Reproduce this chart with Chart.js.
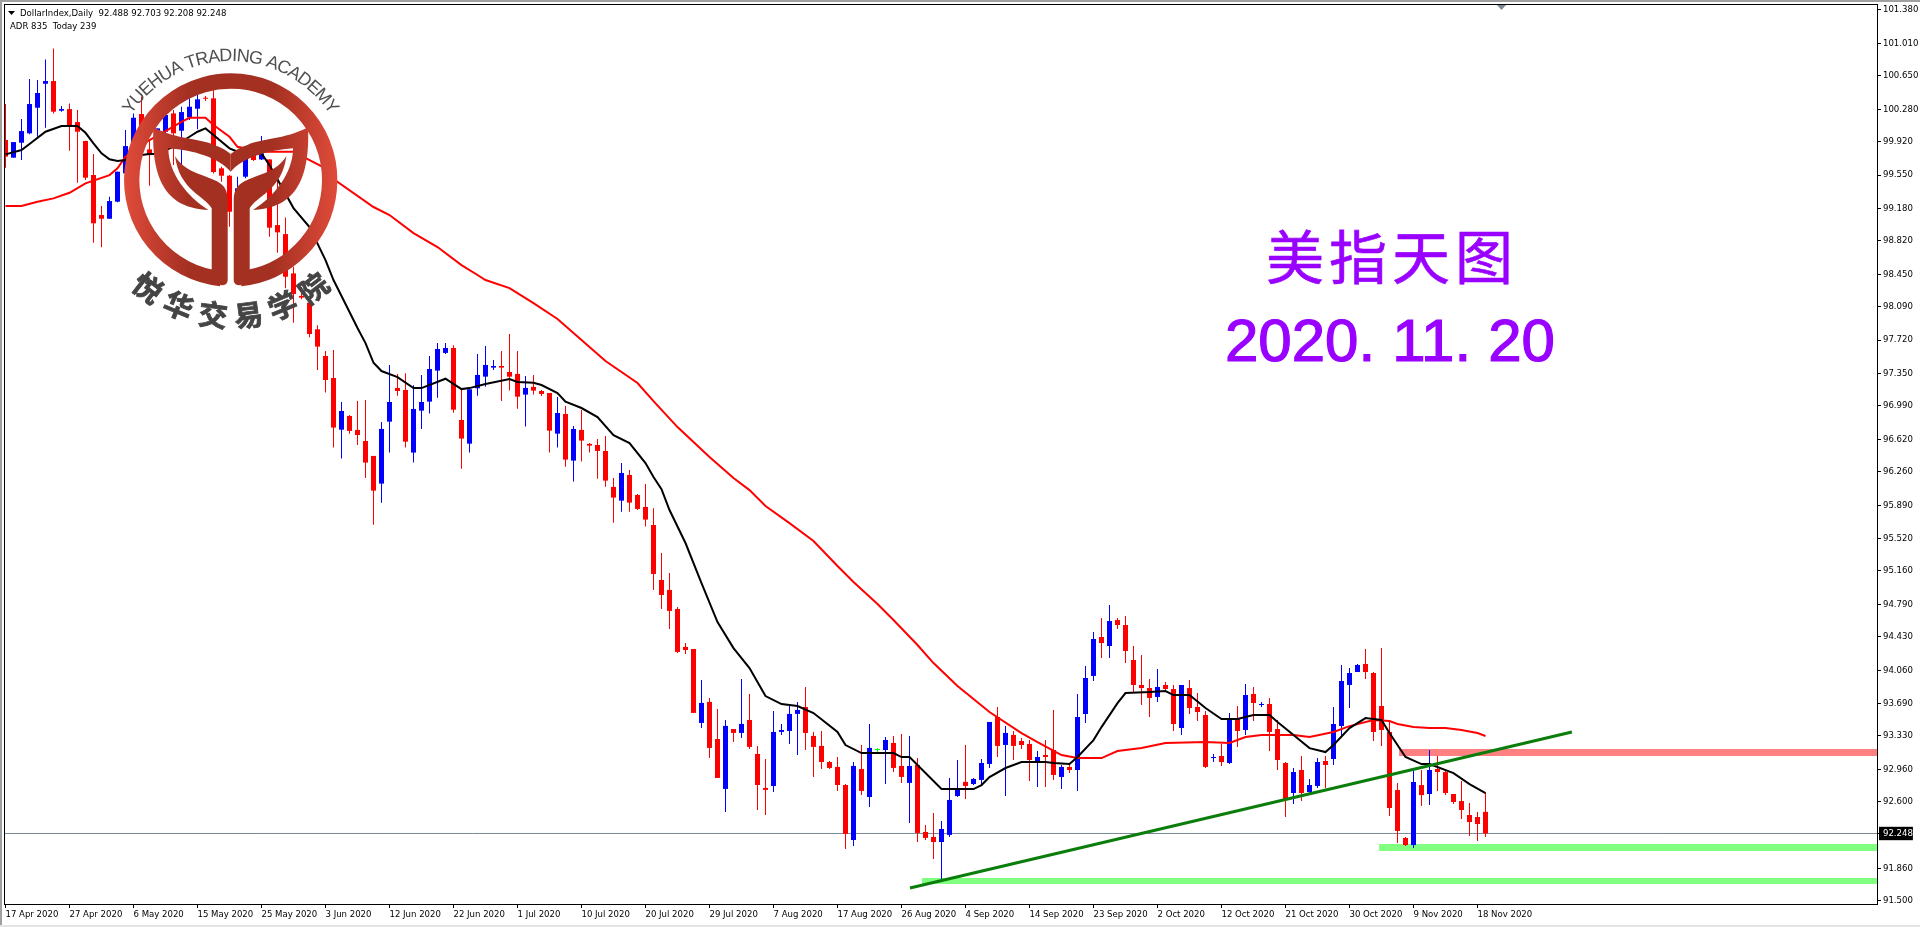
<!DOCTYPE html>
<html>
<head>
<meta charset="utf-8">
<title>DollarIndex Daily</title>
<script src="https://cdn.jsdelivr.net/npm/chart.js@4/dist/chart.umd.min.js"></script>
<style>
html, body { margin: 0; padding: 0; background: #fff; overflow: hidden; }
#wrap { position: relative; width: 1920px; height: 927px; }
canvas { position: absolute; left: 0; top: 0; }
.note { position: absolute; color: #9900ff; white-space: nowrap; }
#noteTitle { left: 1266px; top: 214px; font: 400 58px/80px "Noto Sans CJK SC"; letter-spacing: 5px; -webkit-text-stroke: 0.6px #9900ff; }
#noteDate { left: 1225px; top: 311px; font: 400 60px/60px "Liberation Sans"; -webkit-text-stroke: 1.2px #9900ff; }
#noteDate span { padding-right: 17px; }
</style>
</head>
<body>
<div id="wrap">
<canvas id="myChart" width="1920" height="927"></canvas>
<div class="note" id="noteTitle">美指天图</div>
<div class="note" id="noteDate">2020<span>.</span>11<span>.</span>20</div>
</div>
<script>
const opens = [
    99.938,99.742,99.908,100.012,100.296,100.562,100.592,100.263,100.281,100.137,
    99.927,99.550,99.106,99.065,99.254,99.568,99.845,100.226,99.834,99.753,
    100.030,100.233,100.041,100.189,100.285,100.407,100.400,99.624,99.542,99.143,
    99.531,99.771,99.723,99.723,98.995,98.895,98.459,98.209,98.134,97.839,
    97.543,97.299,96.726,96.878,96.723,96.601,96.435,96.128,96.815,97.189,
    97.166,96.472,96.937,97.037,97.381,97.577,97.632,96.834,96.571,97.185,
    97.314,97.414,97.432,97.366,97.344,97.115,97.200,97.155,97.133,96.682,
    96.900,96.383,96.723,96.568,96.556,96.490,96.091,95.939,96.224,96.002,
    95.869,95.669,95.059,94.949,94.738,94.317,94.294,93.474,93.707,93.296,
    92.742,93.407,93.363,93.507,93.130,92.753,92.775,93.374,93.385,93.574,
    93.651,93.330,93.219,93.041,92.986,92.786,92.176,92.964,92.653,93.174,
    93.174,93.252,92.997,92.809,93.008,92.265,92.210,92.154,92.232,92.664,
    92.820,92.797,92.842,93.019,93.540,93.230,93.341,93.274,93.241,93.030,
    93.119,93.174,92.875,92.986,92.952,93.573,93.995,94.427,94.327,94.615,
    94.560,94.172,93.895,93.861,93.762,93.895,93.850,93.418,93.861,93.651,
    93.562,93.085,93.107,93.030,93.529,93.396,93.795,93.673,93.684,93.407,
    93.030,92.697,92.952,92.708,92.775,93.052,93.074,93.440,93.895,94.039,
    94.128,94.028,93.662,93.374,92.730,92.198,92.120,92.785,92.686,92.963,
    92.929,92.686,92.608,92.453,92.431,92.488
];
const highs = [
    100.337,99.915,100.171,100.614,100.603,100.832,100.954,100.315,100.344,100.270,
    99.930,99.782,99.206,99.309,99.587,100.049,100.233,100.418,99.938,100.067,
    100.233,100.270,100.307,100.400,100.437,100.426,100.500,99.642,99.550,99.531,
    99.790,99.808,99.982,99.723,99.494,99.080,98.533,98.308,98.150,97.883,
    97.599,97.610,97.033,96.889,97.044,97.055,96.435,96.811,97.444,97.344,
    97.351,97.218,97.333,97.543,97.687,97.687,97.662,97.166,97.174,97.565,
    97.654,97.499,97.599,97.787,97.599,97.322,97.333,97.166,97.133,97.089,
    96.989,96.767,96.945,96.579,96.623,96.656,96.191,96.357,96.279,96.013,
    96.124,95.854,95.359,95.137,94.760,94.361,94.294,93.951,93.751,93.629,
    93.507,93.407,93.962,93.795,93.219,93.075,93.607,93.463,93.662,93.707,
    93.873,93.374,93.385,93.052,93.097,92.797,93.041,93.230,93.463,93.197,
    93.319,93.330,93.352,93.330,93.086,92.343,92.476,92.387,92.864,93.064,
    93.230,92.864,93.075,93.485,93.651,93.441,93.385,93.307,93.285,93.163,
    93.285,93.618,93.008,93.008,93.795,94.105,94.482,94.638,94.782,94.638,
    94.660,94.327,94.227,93.961,94.072,93.928,93.895,93.895,93.950,93.806,
    93.606,93.130,93.241,93.584,93.662,93.906,93.873,93.706,93.751,93.507,
    93.041,92.974,93.107,92.852,93.085,93.107,93.651,94.117,94.083,94.128,
    94.294,94.039,94.305,93.507,92.808,92.209,92.941,92.952,93.173,93.107,
    92.941,92.686,92.830,92.586,92.486,92.703
];
const lows = [
    99.631,99.742,99.716,100.001,99.975,100.074,100.233,100.252,99.819,99.465,
    99.494,98.799,98.748,99.065,99.247,99.568,99.827,99.790,99.431,99.753,
    100.012,99.660,99.550,100.159,100.056,100.370,99.568,99.476,98.977,99.125,
    99.513,99.705,99.716,98.866,98.688,98.293,97.913,98.172,97.750,97.388,
    97.137,96.527,96.405,96.682,96.556,96.191,95.673,95.917,96.472,97.103,
    96.527,96.361,96.734,96.904,97.081,97.565,96.915,96.294,96.472,97.103,
    97.203,97.388,97.044,97.159,96.959,96.760,97.115,97.100,96.472,96.527,
    96.316,96.150,96.372,96.472,96.183,96.094,95.695,95.817,95.817,95.836,
    95.651,94.949,94.738,94.516,94.250,94.239,93.585,93.418,93.086,92.864,
    92.487,93.263,93.308,93.186,92.509,92.454,92.709,93.341,93.241,93.119,
    93.174,92.875,92.964,92.964,92.720,92.077,92.110,92.676,92.542,93.130,
    92.797,92.930,92.809,92.365,92.154,92.176,91.966,91.733,92.210,92.653,
    92.631,92.786,92.797,92.975,93.097,92.664,93.064,93.185,92.830,92.764,
    92.764,92.841,92.742,92.919,92.719,93.473,93.939,94.194,94.194,94.516,
    94.139,93.817,93.673,93.540,93.706,93.839,93.385,93.340,93.573,93.496,
    92.974,93.041,92.997,93.019,93.207,93.340,93.496,93.651,93.163,92.952,
    92.431,92.575,92.608,92.697,92.753,92.753,93.008,93.318,93.640,94.039,
    93.961,93.274,93.218,92.442,92.143,92.109,92.087,92.552,92.564,92.719,
    92.674,92.575,92.408,92.220,92.164,92.208
];
const closes = [
    99.753,99.915,100.037,100.337,100.459,100.592,100.252,100.281,100.097,100.030,
    99.520,99.014,99.065,99.261,99.587,99.871,100.185,99.864,99.771,100.067,
    100.215,100.012,100.248,100.307,100.389,100.396,99.583,99.542,99.143,99.402,
    99.734,99.716,99.790,98.966,98.914,98.422,98.231,98.190,97.787,97.647,
    97.277,96.749,96.933,96.712,96.667,96.361,96.050,96.734,97.033,97.155,
    96.593,96.956,97.033,97.399,97.621,97.632,96.948,96.627,97.174,97.333,
    97.444,97.432,97.414,97.314,97.092,97.189,97.159,97.122,96.715,96.911,
    96.394,96.734,96.605,96.549,96.490,96.161,95.973,96.246,95.917,95.847,
    95.729,95.126,94.893,94.716,94.261,94.283,93.585,93.696,93.197,92.864,
    93.441,93.363,93.463,93.208,92.786,92.731,93.374,93.396,93.574,93.618,
    93.363,93.208,93.041,92.975,92.786,92.243,92.997,92.720,93.197,93.174,
    93.285,92.975,92.875,92.997,92.254,92.199,92.154,92.298,92.620,92.753,
    92.775,92.853,93.030,93.485,93.219,93.363,93.219,93.229,93.063,93.096,
    93.096,92.897,92.986,92.952,93.540,93.972,94.405,94.360,94.604,94.560,
    94.272,93.895,93.861,93.751,93.873,93.850,93.462,93.895,93.640,93.595,
    92.986,93.096,93.041,93.518,93.385,93.784,93.695,93.684,93.374,93.063,
    92.620,92.930,92.697,92.786,93.041,93.008,93.462,93.939,94.028,94.117,
    94.039,93.374,93.396,92.531,92.276,92.120,92.819,92.674,92.952,92.929,
    92.697,92.597,92.508,92.375,92.353,92.248
];

const fastBars = [0,2,3,5,7,9,10,11,12,13,14,15,17,18,19,20,21,22,23,24,25,26,28,29,32,33,36,38,40,41,42,44,45,46,47,49,51,52,55,57,58,60,63,64,66,67,69,70,72,74,76,78,80,81,82,83,85,87,89,91,93,95,97,99,101,104,105,107,109,111,112,113,115,117,121,122,123,125,127,130,131,133,134,136,137,139,140,143,145,146,148,150,152,154,156,158,159,161,163,165,166,168,170,172,173,175,177,178,181,183,185];
const fastValues = [99.779,99.827,99.893,100.030,100.093,100.093,100.018,99.901,99.790,99.724,99.705,99.716,99.771,99.782,99.782,99.827,99.863,99.919,99.974,100.030,100.067,99.993,99.846,99.808,99.790,99.660,99.183,98.973,98.607,98.385,98.208,97.853,97.686,97.468,97.376,97.309,97.187,97.187,97.291,97.176,97.187,97.232,97.287,97.254,97.246,97.221,97.132,97.036,96.966,96.866,96.666,96.578,96.356,96.201,96.067,95.835,95.469,95.025,94.593,94.304,94.083,93.772,93.683,93.661,93.584,93.373,93.229,93.140,93.140,93.140,93.096,93.096,92.918,92.741,92.741,92.785,92.874,92.974,93.040,93.040,93.029,93.018,93.096,93.284,93.428,93.694,93.805,93.816,93.828,93.783,93.783,93.639,93.517,93.517,93.561,93.561,93.484,93.340,93.195,93.151,93.229,93.417,93.528,93.506,93.362,93.096,93.018,93.018,92.918,92.796,92.696];
const slowBars = [0,2,4,6,8,10,13,14,15,18,20,22,23,25,26,28,29,32,36,38,40,41,46,48,51,54,57,59,60,63,66,69,72,75,79,81,84,88,91,93,95,98,101,104,106,109,111,114,116,119,123,127,129,132,134,137,139,142,145,150,153,155,157,161,163,166,168,171,173,174,176,178,180,182,184,185];
const slowValues = [99.206,99.206,99.253,99.291,99.353,99.457,99.549,99.624,99.752,99.938,100.037,100.140,100.185,100.185,100.104,99.974,99.863,99.808,99.808,99.716,99.624,99.505,99.195,99.106,98.906,98.751,98.551,98.441,98.385,98.296,98.130,97.953,97.720,97.487,97.243,97.043,96.755,96.422,96.189,96.056,95.879,95.690,95.491,95.214,95.036,94.792,94.615,94.338,94.138,93.883,93.595,93.362,93.262,93.118,93.084,93.084,93.162,93.195,93.251,93.262,93.251,93.317,93.340,93.340,93.317,93.373,93.439,93.506,93.495,93.462,93.428,93.417,93.417,93.395,93.362,93.329];

// drawn objects on the chart
const trendBars = [113.06, 195.8];
const trendPrices = [91.643, 93.373];
const supportStarts = [114.56, 171.7];
const supportPrices = [91.720, 92.092];
const resistanceStart = 174.2;
const resistancePrice = 93.145;

const dateLabels = ["17 Apr 2020","27 Apr 2020","6 May 2020","15 May 2020","25 May 2020","3 Jun 2020","12 Jun 2020","22 Jun 2020","1 Jul 2020","10 Jul 2020","20 Jul 2020","29 Jul 2020","7 Aug 2020","17 Aug 2020","26 Aug 2020","4 Sep 2020","14 Sep 2020","23 Sep 2020","2 Oct 2020","12 Oct 2020","21 Oct 2020","30 Oct 2020","9 Nov 2020","18 Nov 2020"];
const priceTicks = [101.38,101.01,100.65,100.28,99.92,99.55,99.18,98.82,98.45,98.09,97.72,97.35,96.99,96.62,96.26,95.89,95.52,95.16,94.79,94.43,94.06,93.69,93.33,92.96,92.6,92.248,91.86,91.5];
const lastPrice = 92.248;

const xMin = -0.1875, xMax = 233.9375;
const tickFont = { family: "DejaVu Sans Condensed", size: 9.5 };

const candleColor = (i) => {
    if (closes[i] > opens[i]) return "#0000ff";
    if (closes[i] < opens[i]) return "#ff0000";
    return "#00ff00";
};

const wickData = highs.map((h, i) => ({ x: i, y: [lows[i], h] }));
const bodyData = opens.map((o, i) => ({ x: i, y: [Math.min(o, closes[i]), Math.max(o, closes[i])] }));
const barColors = opens.map((o, i) => candleColor(i));

const lineSet = (data, color, width, order) => ({
    type: "line",
    data: data,
    borderColor: color,
    borderWidth: width,
    pointRadius: 0,
    tension: 0,
    borderCapStyle: "butt",
    order: order
});

const toPoints = (bars, values) => bars.map((b, i) => ({ x: b, y: values[i] }));

// MT4 style frame, header lines and the marker at the top
const framePlugin = {
    id: "frame",
    beforeDraw(chart) {
        const ctx = chart.ctx;
        ctx.save();
        ctx.fillStyle = "#a0a0a0";
        ctx.fillRect(0, 0, 1920, 2);
        ctx.fillRect(0, 0, 2, 925);
        ctx.fillStyle = "#e4e4e4";
        ctx.fillRect(0, 925, 1920, 2);
        ctx.restore();
    },
    afterDraw(chart) {
        const ctx = chart.ctx;
        const a = chart.chartArea;
        ctx.save();
        ctx.strokeStyle = "#000";
        ctx.lineWidth = 1;
        ctx.strokeRect(a.left + 0.5, a.top + 0.5, a.right - a.left, a.bottom - a.top);
        ctx.fillStyle = "#000";
        ctx.beginPath();
        ctx.moveTo(8, 11);
        ctx.lineTo(15, 11);
        ctx.lineTo(11.5, 15);
        ctx.fill();
        ctx.font = "9.5px 'DejaVu Sans Condensed'";
        ctx.fillText("DollarIndex,Daily  92.488 92.703 92.208 92.248", 20, 16);
        ctx.fillText("ADR 835  Today 239", 10, 29);
        ctx.fillStyle = "#778899";
        ctx.beginPath();
        ctx.moveTo(1497, 5);
        ctx.lineTo(1506, 5);
        ctx.lineTo(1501.5, 10);
        ctx.fill();
        ctx.restore();
    }
};

// academy watermark over the top left of the chart
const logoPlugin = {
    id: "logo",
    afterDatasetsDraw(chart) {
        const ctx = chart.ctx;
        const cx = 230.7, cy = 180;
        ctx.save();
        ctx.translate(cx, cy);
        ctx.save();
        ctx.scale(1 / 3, 1 / 3);
        const grad = ctx.createLinearGradient(-320, 0, 320, 0);
        grad.addColorStop(0, "#e04b3a");
        grad.addColorStop(0.3, "#a43022");
        grad.addColorStop(0.7, "#a43022");
        grad.addColorStop(1, "#e04b3a");
        ctx.strokeStyle = grad;
        ctx.fillStyle = grad;
        ctx.lineWidth = 46;
        ctx.beginPath();
        ctx.arc(0, 0, 297, Math.PI / 2 + 0.1, Math.PI / 2 - 0.1);
        ctx.stroke();
        for (const side of [-1, 1]) {
            ctx.save();
            ctx.scale(side, 1);
            ctx.beginPath();
            ctx.moveTo(-232, -158);
            ctx.bezierCurveTo(-160, -120, -90, -125, -50, -105);
            ctx.quadraticCurveTo(-20, -95, 0, -78);
            ctx.lineTo(0, -25);
            ctx.bezierCurveTo(-35, -65, -110, -90, -187, -95);
            ctx.bezierCurveTo(-187, -20, -130, 50, -67, 90);
            ctx.bezierCurveTo(-170, 85, -240, 30, -232, -158);
            ctx.fill();
            ctx.beginPath();
            ctx.moveTo(-167, -72);
            ctx.bezierCurveTo(-140, -25, -80, -15, -50, 0);
            ctx.bezierCurveTo(-25, 10, -9, 25, -9, 60);
            ctx.lineTo(-9, 300);
            ctx.quadraticCurveTo(-9, 317, -30, 316);
            ctx.lineTo(-57, 270);
            ctx.lineTo(-57, 85);
            ctx.bezierCurveTo(-75, 50, -155, 30, -167, -72);
            ctx.fill();
            ctx.restore();
        }
        ctx.restore();

        const word = "YUEHUA TRADING ACADEMY";
        ctx.font = "18px 'Liberation Sans'";
        ctx.fillStyle = "#505050";
        ctx.textAlign = "center";
        ctx.textBaseline = "alphabetic";
        const widths = [...word].map((c) => ctx.measureText(c).width);
        const total = widths.reduce((s, w) => s + w, 0);
        const arc = 113 * Math.PI / 180;
        let run = 0;
        [...word].forEach((c, i) => {
            const ang = -arc / 2 + arc * (run + widths[i] / 2) / total;
            run += widths[i];
            ctx.save();
            ctx.rotate(ang);
            ctx.fillText(c, 0, -119);
            ctx.restore();
        });

        ctx.font = "bold 29px 'Noto Sans CJK SC'";
        ctx.fillStyle = "#444";
        ctx.strokeStyle = "#444";
        ctx.lineWidth = 0.8;
        ctx.textBaseline = "middle";
        [..."悦华交易学院"].forEach((c, i) => {
            const ang = (-37.5 + 15 * i) * Math.PI / 180;
            ctx.save();
            ctx.translate(136 * Math.sin(ang), 136 * Math.cos(ang));
            ctx.rotate(-ang);
            ctx.fillText(c, 0, 0);
            ctx.strokeText(c, 0, 0);
            ctx.restore();
        });
        ctx.restore();
    }
};

new Chart("myChart", {
    type: "bar",
    data: {
        datasets: [
            lineSet(toPoints([supportStarts[0], xMax], [supportPrices[0], supportPrices[0]]), "#80ff80", 6, 10),
            lineSet(toPoints([supportStarts[1], xMax], [supportPrices[1], supportPrices[1]]), "#80ff80", 7, 10),
            lineSet(toPoints([resistanceStart, xMax], [resistancePrice, resistancePrice]), "#ff8080", 7, 10),
            lineSet(toPoints([xMin, xMax], [lastPrice, lastPrice]), "#778899", 1, 9),
            { data: wickData, backgroundColor: barColors, barThickness: 1, minBarLength: 1, inflateAmount: 0, order: 8 },
            { data: bodyData, backgroundColor: barColors, barThickness: 5, minBarLength: 1, inflateAmount: 0, order: 7 },
            lineSet(toPoints(slowBars, slowValues), "#ff0000", 2, 6),
            lineSet(toPoints(fastBars, fastValues), "#000000", 2, 5),
            lineSet(toPoints(trendBars, trendPrices), "#0b7d0b", 3, 1)
        ]
    },
    options: {
        responsive: false,
        animation: false,
        events: [],
        layout: { padding: { left: 4, top: 4, right: 0, bottom: 0 } },
        datasets: { bar: { grouped: false } },
        plugins: { legend: { display: false }, title: { display: false }, tooltip: { enabled: false } },
        scales: {
            x: {
                type: "linear",
                min: xMin,
                max: xMax,
                offset: false,
                border: { display: false },
                grid: { drawOnChartArea: false, offset: false, color: "#000", tickLength: 4 },
                ticks: {
                    autoSkip: false,
                    maxRotation: 0,
                    align: "start",
                    padding: 1,
                    color: "#000",
                    font: tickFont,
                    callback: (v) => dateLabels[v / 8]
                },
                afterBuildTicks: (s) => { s.ticks = dateLabels.map((d, i) => ({ value: i * 8 })); },
                afterFit: (s) => { s.height = 23; s.paddingLeft = 0; s.paddingRight = 0; }
            },
            y: {
                position: "right",
                min: 91.4662,
                max: 101.4462,
                border: { display: false },
                grid: { drawOnChartArea: false, color: "#000", tickLength: 4 },
                ticks: {
                    autoSkip: false,
                    padding: 2,
                    font: tickFont,
                    color: (c) => (c.tick.value === lastPrice ? "#fff" : "#000"),
                    showLabelBackdrop: (c) => c.tick.value === lastPrice,
                    backdropColor: "#000",
                    backdropPadding: { top: 1, bottom: 1, left: 4, right: 0 },
                    callback: (v) => v.toFixed(3)
                },
                afterBuildTicks: (s) => { s.ticks = priceTicks.map((v) => ({ value: v })); },
                afterFit: (s) => { s.width = 43; s.paddingTop = 0; s.paddingBottom = 0; }
            }
        }
    },
    plugins: [framePlugin, logoPlugin]
});
</script>
</body>
</html>
